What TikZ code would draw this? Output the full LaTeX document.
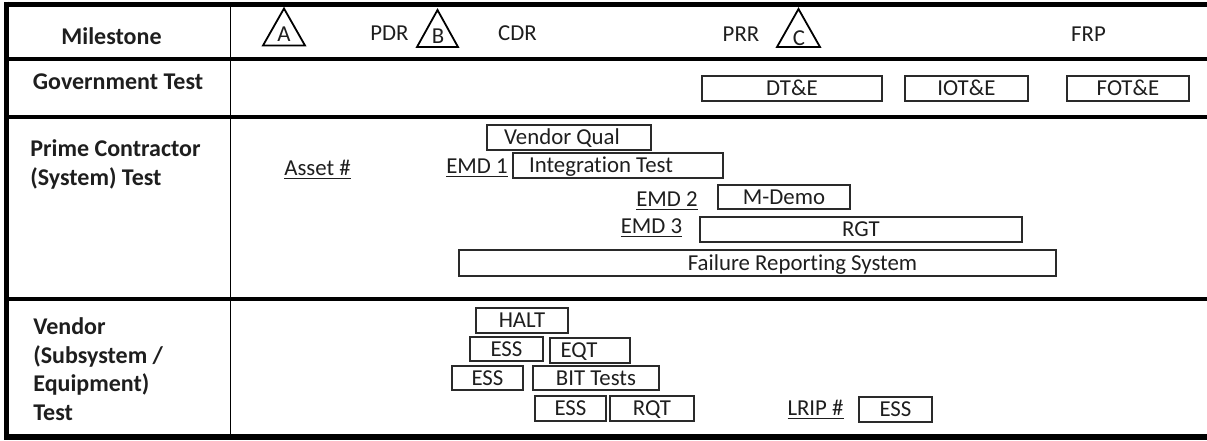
\documentclass[tikz,border=0pt]{standalone}
\usepackage{fontspec}
\setmainfont[Ligatures=NoCommon]{Carlito}
\definecolor{ink}{HTML}{1E1E1E}
\definecolor{boxline}{HTML}{2A2A2A}
\begin{document}
\begin{tikzpicture}[x=0.5pt,y=-0.5pt,
  every node/.style={font=\fontsize{11.4pt}{14.3pt}\selectfont, text=ink},
  captext/.style={inner sep=0pt, text height=7.34pt, text depth=0pt},
  rowlabel/.style={inner sep=0pt, text height=7.73pt, text depth=0pt, font=\fontsize{12pt}{14.3pt}\selectfont\bfseries},
  multilabel/.style={inner sep=0pt, align=left, anchor=north west, font=\fontsize{12pt}{14.3pt}\selectfont\bfseries},
  tbox/.style={captext, draw=boxline, line width=0.9pt, minimum height=12.2pt},
  ulabel/.style={captext},
  border/.style={line width=2.8pt, draw=black},
  sep/.style={line width=2pt, draw=black},
  divider/.style={line width=0.9pt, draw=black},
  tri/.style={line width=0.9pt, draw=black, line join=miter}
]
\useasboundingbox (0,0) rectangle (1207,440);

% grid
\draw[sep] (6.5,59) -- (1207,59);
\draw[sep] (6.5,116.5) -- (1207,116.5);
\draw[sep] (6.5,299) -- (1207,299);
\draw[divider] (230.5,4.5) -- (230.5,437);
\draw[border] (4,4.5) -- (1207,4.5);
\draw[border] (4,437) -- (1207,437);
\draw[border] (6.5,1.7) -- (6.5,440);

% row labels
\node[rowlabel] (lmile) at (111.5,36.5) {Milestone};
\node[rowlabel] (lgov) at (118,82) {Government Test};
\node[multilabel] (lprime) at (30,139.5) {Prime Contractor\\(System) Test};
\node[multilabel] (lvend) at (33,317.5) {Vendor\\(Subsystem /\\Equipment)\\Test};

% milestones
\draw[tri] (263,45.5) -- (284,8.5) -- (305,45.5) -- cycle;
\node[captext] (mA) at (284,34) {A};
\node[captext] (pdr) at (389.5,33.5) {PDR};
\draw[tri] (417,47) -- (437.5,10) -- (458,47) -- cycle;
\node[captext] (mB) at (438,36.5) {B};
\node[captext] (cdr) at (517.5,33.5) {CDR};
\node[captext] (prr) at (741,34) {PRR};
\draw[tri] (777,47) -- (798.5,9) -- (820,47) -- cycle;
\node[captext] (mC) at (799,38) {C};
\node[captext] (frp) at (1088.5,34.5) {FRP};

% government test
\node[tbox, minimum width=90pt] (dte) at (792,88.5) {DT\&E};
\node[tbox, minimum width=61.5pt] (iote) at (966.5,88.5) {IOT\&E};
\node[tbox, minimum width=61pt] (fote) at (1128,88.5) {FOT\&E};

% prime contractor test
\node[ulabel] (asset) at (317.5,168.5) {\underline{Asset \#}};
\node[tbox, minimum width=82pt] (vq) at (569,137.5) {Vendor Qual\hspace*{7pt}};
\node[ulabel] (emd1) at (477,166.5) {\underline{EMD 1}};
\node[tbox, minimum width=105pt] (it) at (618,165.5) {Integration Test\hspace*{17pt}};
\node[ulabel] (emd2) at (667,199) {\underline{EMD 2}};
\node[tbox, minimum width=66pt] (md) at (784,197) {M-Demo};
\node[ulabel] (emd3) at (651.5,226) {\underline{EMD 3}};
\node[tbox, minimum width=161pt] (rgt) at (861,229.5) {RGT};
\node[tbox, minimum width=298.5pt, minimum height=13pt] (frs) at (757.5,263) {\hspace*{45pt}Failure Reporting System};

% vendor test
\node[tbox, minimum width=46pt] (halt) at (522,320.5) {HALT};
\node[tbox, minimum width=36.5pt] (ess1) at (506.5,349) {ESS};
\node[tbox, minimum width=40pt] (eqt) at (590,350.5) {EQT\hspace*{11pt}};
\node[tbox, minimum width=35.5pt] (ess2) at (487.5,378) {ESS};
\node[tbox, minimum width=63pt] (bit) at (596,378) {BIT Tests};
\node[tbox, minimum width=35.5pt] (ess3) at (570.5,408.5) {ESS};
\node[tbox, minimum width=42pt] (rqt) at (652,408.5) {RQT};
\node[ulabel] (lrip) at (815.5,408.5) {\underline{LRIP \#}};
\node[tbox, minimum width=36.5pt] (ess4) at (895.5,409.5) {ESS};
\end{tikzpicture}
\end{document}
